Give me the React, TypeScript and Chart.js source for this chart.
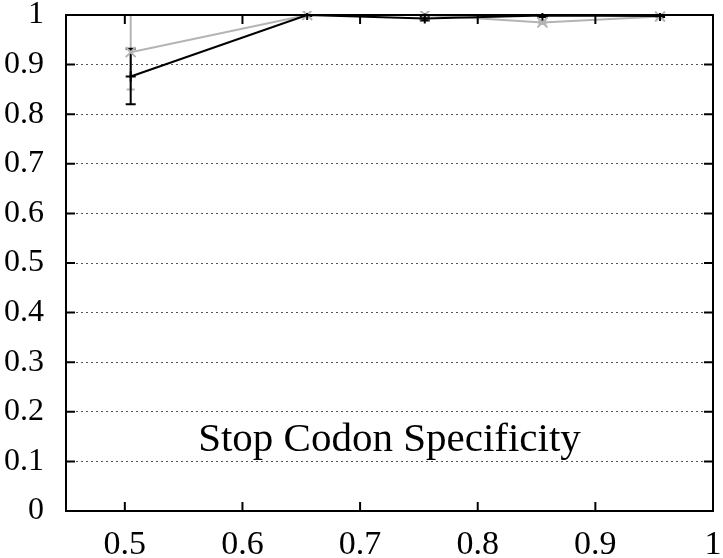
import React, { useEffect, useRef } from 'react';
import { Chart, registerables } from 'chart.js';
Chart.register(...registerables);

const xValues = [0.505, 0.655, 0.755, 0.855, 0.955];
const blackY = [0.876, 1.0, 0.993, 0.999, 0.998];
const blackErr = [0.056, 0.002, 0.004, 0.003, 0.002];
const grayY = [0.925, 1.0, 1.0, 0.985, 0.997];
const grayErr = [0.075, 0.0, 0.0, 0.003, 0.002];
const xTicks = [0.5, 0.6, 0.7, 0.8, 0.9, 1];
const yTicks = [0, 0.1, 0.2, 0.3, 0.4, 0.5, 0.6, 0.7, 0.8, 0.9, 1];
const titleText = 'Stop Codon Specificity';
const titlePos = { x: 0.725, y: 0.12 };

const BLACK = '#000000';
const GRAY = '#b4b4b4';
const FONT = "'Liberation Serif', 'Times New Roman', serif";

const framePlugin = {
  id: 'frameAndErrors',
  beforeDatasetsDraw(chart: any) {
    const { ctx, scales } = chart;
    const xs = scales.x;
    const ys = scales.y;
    const area = chart.chartArea;
    ctx.save();
    ctx.beginPath();
    ctx.rect(area.left, area.top - 1, area.right - area.left, area.bottom - area.top + 2);
    ctx.clip();
    const drawErr = (ys0: number[], errs: number[], color: string, cap: number) => {
      ctx.strokeStyle = color;
      ctx.lineWidth = 2;
      xValues.forEach((xv, i) => {
        if (!errs[i]) return;
        const px = xs.getPixelForValue(xv);
        const lo = ys.getPixelForValue(ys0[i] - errs[i]);
        const hi = ys.getPixelForValue(ys0[i] + errs[i]);
        ctx.beginPath();
        ctx.moveTo(px, lo);
        ctx.lineTo(px, hi);
        ctx.moveTo(px - cap, lo);
        ctx.lineTo(px + cap, lo);
        ctx.moveTo(px - cap, hi);
        ctx.lineTo(px + cap, hi);
        ctx.stroke();
      });
    };
    drawErr(grayY, grayErr, GRAY, 4);
    drawErr(blackY, blackErr, BLACK, 5);
    ctx.restore();
  },
  afterDraw(chart: any) {
    const { ctx, scales } = chart;
    const xs = scales.x;
    const ys = scales.y;
    const a = chart.chartArea;
    ctx.save();
    ctx.strokeStyle = BLACK;
    ctx.lineWidth = 2;
    ctx.strokeRect(a.left, a.top, a.right - a.left, a.bottom - a.top);
    const tl = 9;
    ctx.beginPath();
    yTicks.forEach((v) => {
      const py = ys.getPixelForValue(v);
      ctx.moveTo(a.left, py);
      ctx.lineTo(a.left + tl, py);
      ctx.moveTo(a.right, py);
      ctx.lineTo(a.right - tl, py);
    });
    xTicks.forEach((v) => {
      const px = xs.getPixelForValue(v);
      ctx.moveTo(px, a.bottom);
      ctx.lineTo(px, a.bottom - tl);
      ctx.moveTo(px, a.top);
      ctx.lineTo(px, a.top + tl);
    });
    ctx.stroke();
    ctx.fillStyle = BLACK;
    ctx.font = `41px ${FONT}`;
    ctx.textAlign = 'center';
    ctx.textBaseline = 'alphabetic';
    ctx.fillText(titleText, xs.getPixelForValue(titlePos.x), ys.getPixelForValue(titlePos.y));
    ctx.restore();
  },
};

export default function App() {
  const ref = useRef<HTMLCanvasElement>(null);
  useEffect(() => {
    document.body.style.margin = '0';
    const canvas = ref.current;
    if (!canvas) return;
    const chart = new Chart(canvas, {
      type: 'line',
      data: {
        datasets: [
          {
            label: 'black',
            data: xValues.map((x, i) => ({ x, y: blackY[i] })),
            borderColor: BLACK,
            backgroundColor: BLACK,
            borderWidth: 2,
            pointStyle: 'cross',
            pointRadius: 5,
            pointBorderWidth: 2,
            tension: 0,
            clip: 2,
          },
          {
            label: 'gray',
            data: xValues.map((x, i) => ({ x, y: grayY[i] })),
            borderColor: GRAY,
            backgroundColor: GRAY,
            borderWidth: 2,
            pointStyle: 'crossRot',
            pointRadius: 7,
            pointBorderWidth: 2,
            tension: 0,
            clip: 4,
          },
        ],
      },
      options: {
        animation: false,
        responsive: true,
        maintainAspectRatio: false,
        layout: { padding: { left: 0, right: 10, top: 15, bottom: 0 } },
        plugins: { legend: { display: false }, tooltip: { enabled: false } },
        scales: {
          x: {
            type: 'linear',
            min: 0.45,
            max: 1.0,
            afterBuildTicks: (s: any) => {
              s.ticks = xTicks.map((v) => ({ value: v }));
            },
            afterFit: (s: any) => {
              s.height = 47;
              s.paddingLeft = 0;
              s.paddingRight = 0;
            },
            grid: { display: false, drawTicks: false },
            border: { display: false },
            ticks: {
              color: BLACK,
              padding: 14,
              maxRotation: 0,
              autoSkip: false,
              font: { family: FONT, size: 34 },
              callback: (v: any) => String(v),
            },
          },
          y: {
            type: 'linear',
            min: 0,
            max: 1,
            afterBuildTicks: (s: any) => {
              s.ticks = yTicks.map((v) => ({ value: v }));
            },
            afterFit: (s: any) => {
              s.width = 66;
              s.paddingTop = 0;
              s.paddingBottom = 0;
            },
            grid: {
              display: true,
              drawTicks: false,
              lineWidth: 1,
              color: (c: any) =>
                c.tick && (c.tick.value === 0 || c.tick.value === 1) ? 'rgba(0,0,0,0)' : '#555555',
            },
            border: { display: false, dash: [2, 3] },
            ticks: {
              color: BLACK,
              padding: 22,
              autoSkip: false,
              font: { family: FONT, size: 32 },
              callback: (v: any) => String(v),
            },
          },
        },
      },
      plugins: [framePlugin],
    });
    return () => chart.destroy();
  }, []);
  return (
    <div style={{ position: 'relative', width: 723, height: 558 }}>
      <canvas ref={ref} />
    </div>
  );
}
